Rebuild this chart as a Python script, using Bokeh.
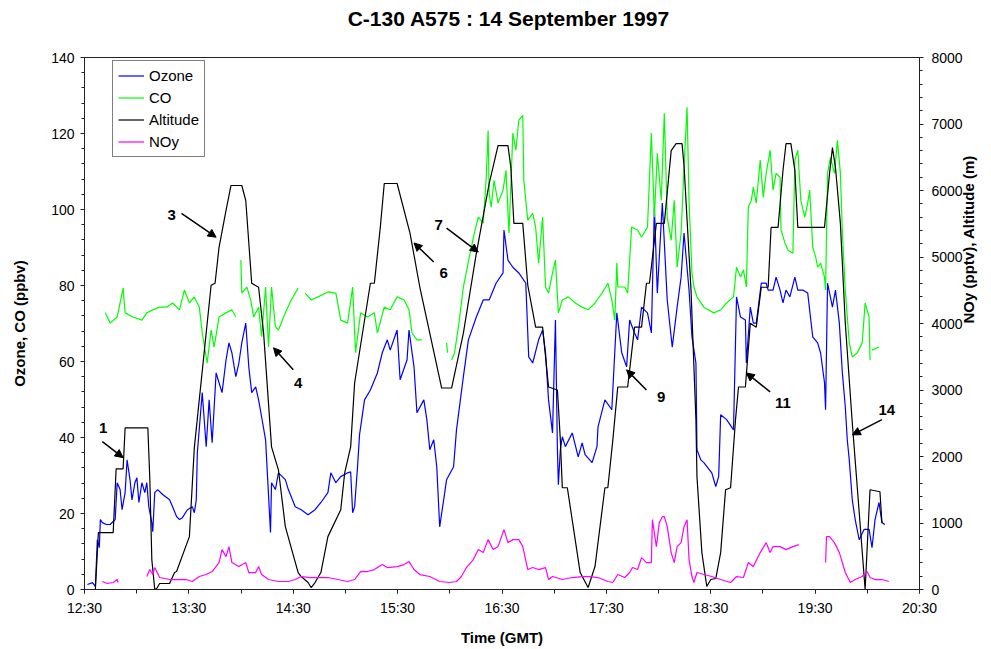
import math
from bokeh.plotting import figure
from bokeh.layouts import column
from bokeh.models import (Range1d, LinearAxis, FixedTicker, Arrow, NormalHead,
                          ColumnDataSource, Legend, LegendItem)
from bokeh.core.properties import value
from bokeh.embed import file_html
from bokeh.resources import INLINE

nan = float("nan")

# ---------------- data (time in decimal hours GMT) ----------------
alt_t = [12.519,12.604,12.633,12.775,12.803,12.870,12.889,13.107,13.126,13.145,13.173,13.192,13.220,13.315,13.363,13.382,13.505,13.552,13.713,13.751,
         13.789,13.856,13.903,14.007,14.045,14.102,14.168,14.216,14.292,14.358,14.424,14.547,14.576,14.642,14.671,14.709,14.765,14.832,14.955,14.993,
         15.050,15.088,15.239,15.277,15.334,15.372,15.495,15.619,15.713,15.808,15.922,16.017,16.130,16.254,16.377,16.462,16.557,16.585,16.614,16.699,
         16.747,16.822,16.889,16.946,17.031,17.059,17.078,17.126,17.249,17.325,17.391,17.486,17.514,17.562,17.609,17.704,17.770,17.837,17.884,17.913,
         17.979,18.055,18.121,18.168,18.225,18.244,18.311,18.358,18.368,18.415,18.462,18.500,18.548,18.595,18.642,18.690,18.737,18.766,18.832,18.879,
         18.936,18.984,19.050,19.078,19.145,19.192,19.221,19.268,19.306,19.334,19.590,19.638,19.666,19.695,19.742,19.789,19.856,19.913,19.979,20.026,
         20.121,20.140]
alt_m = [0,0,855,855,1815,1815,2430,2430,1650,450,0,15,90,90,255,270,795,2130,4575,4605,
         5145,5700,6075,6075,5850,4605,4545,3855,2145,1800,945,255,195,105,30,105,255,795,1200,1755,
         2145,3105,4605,4605,5445,6105,6105,5355,4545,3855,3030,3030,3855,5055,6105,6675,6675,6345,5505,5505,
         4575,3945,3945,3045,3000,2250,1530,1530,255,30,345,1530,1530,2250,3045,3045,3945,3945,4605,4605,
         5505,5505,6600,6705,6705,6375,4500,2550,1695,555,45,150,165,555,1500,1530,2550,3045,3045,4005,
         3945,4545,4545,5445,5445,6300,6705,6705,6300,5445,5445,6255,6645,6345,5505,4005,2505,1350,0,1500,
         1470,1005]

o3_t = [12.528,12.576,12.604,12.623,12.642,12.652,12.671,12.709,12.746,12.775,12.794,12.813,12.841,12.860,12.889,12.908,12.936,12.955,12.983,13.002,
        13.021,13.050,13.078,13.097,13.116,13.145,13.154,13.173,13.201,13.249,13.315,13.344,13.382,13.410,13.438,13.486,13.533,13.552,13.571,13.581,
        13.628,13.666,13.694,13.723,13.761,13.789,13.818,13.856,13.884,13.912,13.950,13.979,14.007,14.045,14.074,14.102,14.140,14.168,14.197,14.235,
        14.282,14.292,14.329,14.358,14.424,14.453,14.519,14.576,14.642,14.709,14.765,14.832,14.860,14.908,14.955,15.021,15.050,15.069,15.088,15.116,
        15.135,15.183,15.239,15.306,15.353,15.401,15.429,15.495,15.524,15.590,15.609,15.657,15.685,15.751,15.780,15.808,15.846,15.875,15.903,15.941,
        15.969,16.036,16.064,16.130,16.178,16.254,16.320,16.377,16.443,16.510,16.519,16.557,16.604,16.661,16.728,16.756,16.794,16.851,16.889,16.917,
        16.946,16.984,17.012,17.031,17.040,17.059,17.078,17.107,17.173,17.230,17.268,17.296,17.363,17.410,17.420,17.486,17.552,17.600,17.647,17.694,
        17.723,17.770,17.799,17.837,17.894,17.931,17.960,17.988,18.036,18.083,18.131,18.178,18.216,18.244,18.292,18.320,18.358,18.368,18.405,18.434,
        18.510,18.548,18.576,18.595,18.652,18.718,18.747,18.785,18.832,18.841,18.879,18.908,18.936,18.984,19.031,19.050,19.097,19.126,19.164,19.192,
        19.221,19.258,19.306,19.334,19.382,19.429,19.477,19.524,19.552,19.590,19.600,19.619,19.666,19.695,19.732,19.761,19.789,19.808,19.827,19.856,
        19.884,19.922,19.969,20.017,20.045,20.074,20.112,20.140,20.169]
o3_ppbv = [1.3,1.8,0.8,13.1,11.0,18.4,17.6,17.1,17.1,17.9,18.4,28.1,26.3,21.0,25.5,34.1,28.9,23.6,28.1,29.4,
           22.9,28.1,25.5,28.1,21.8,17.6,15.2,25.5,26.3,25.0,23.6,21.8,19.2,18.4,18.9,21.0,21.8,20.2,23.6,36.0,
           51.8,37.6,49.9,38.6,57.0,54.4,51.8,60.4,64.9,62.3,56.0,59.6,64.9,70.1,58.6,51.8,53.3,49.9,45.4,39.4,
           15.0,28.1,26.3,30.7,28.9,26.3,21.8,21.0,19.7,21.0,22.9,25.5,30.7,28.1,29.7,30.7,31.0,20.2,21.8,32.3,
           40.7,49.9,52.5,57.0,62.3,65.7,63.0,68.3,55.2,60.4,68.3,58.6,46.5,49.9,44.7,36.8,39.4,32.3,16.5,23.6,
           28.9,32.3,42.0,56.0,65.7,71.7,76.2,76.2,80.6,83.3,94.6,86.7,84.8,83.3,80.6,61.2,59.6,65.7,68.3,62.3,
           49.9,41.2,70.9,36.8,27.6,36.8,40.2,37.6,41.2,34.9,38.6,35.5,33.4,37.6,42.8,49.9,47.3,72.8,62.3,58.6,
           70.9,67.5,65.7,74.3,72.8,67.5,100.6,78.0,101.7,76.2,63.8,74.3,82.2,93.8,78.8,66.5,59.6,36.8,34.1,33.4,
           30.7,27.1,29.7,46.0,44.7,42.0,77.0,71.7,70.9,59.6,74.3,70.1,70.1,80.6,80.6,78.8,78.8,82.2,78.8,75.4,
           78.8,77.0,82.2,78.8,78.8,78.0,66.5,64.9,62.3,54.4,47.3,80.6,74.3,78.8,70.1,57.0,48.1,39.4,34.1,23.6,
           18.4,13.1,15.8,15.8,11.0,18.4,22.9,17.6,17.1]

co_t = [12.699,12.746,12.813,12.870,12.889,12.964,13.050,13.097,13.154,13.220,13.287,13.344,13.410,13.457,13.505,13.552,13.600,13.628,13.675,13.713,
        13.742,13.789,13.856,13.912,13.950,13.975,
        13.998,14.007,14.055,14.092,14.121,14.168,14.197,14.235,14.263,14.292,14.329,14.358,14.424,14.481,14.547,14.580,
        14.614,14.671,14.737,14.832,14.908,14.955,15.021,15.069,15.097,15.145,15.211,15.277,15.306,15.372,15.429,15.495,15.562,15.609,15.638,15.685,
        15.732,15.850,15.969,15.978,16.000,
        16.017,16.045,16.083,16.130,16.187,16.235,16.273,16.320,16.349,16.367,16.377,16.396,16.424,16.462,16.510,16.538,16.567,16.604,16.633,16.661,
        16.699,16.709,16.747,16.794,16.822,16.851,16.889,16.917,16.946,16.984,17.012,17.040,17.078,17.135,17.202,17.268,17.325,17.391,17.458,17.514,
        17.552,17.581,17.600,17.609,17.676,17.704,17.742,17.799,17.837,17.894,17.931,17.960,17.988,18.026,18.055,18.083,18.121,18.150,18.178,18.216,
        18.244,18.273,18.292,18.320,18.339,18.368,18.434,18.529,18.595,18.652,18.718,18.747,18.785,18.813,18.841,18.860,18.889,18.908,18.936,18.974,
        19.003,19.031,19.069,19.097,19.126,19.164,19.173,19.211,19.240,19.287,19.306,19.334,19.363,19.401,19.429,19.448,19.477,19.505,19.524,19.552,
        19.590,19.600,19.619,19.647,19.685,19.714,19.742,19.761,19.789,19.827,19.856,19.903,19.951,19.979,20.017,20.026,20.035,20.045,20.112]
co_ppbv = [72.8,70.1,71.7,79.3,72.8,71.7,70.9,72.8,73.6,74.3,74.3,75.4,73.6,78.8,75.4,77.0,74.3,67.5,59.6,68.3,
           63.8,71.7,72.8,73.6,71.7,nan,
           86.7,78.0,79.6,76.2,71.7,74.3,66.5,79.6,63.8,79.6,69.1,68.3,72.8,76.2,79.3,nan,
           78.0,76.2,77.0,78.3,78.0,70.9,70.1,79.6,62.3,72.8,71.7,72.8,67.5,74.3,73.6,77.0,76.2,73.6,67.5,65.7,
           65.7,nan,64.9,62.3,nan,
           60.4,62.3,69.1,79.6,87.5,93.8,98.0,96.4,108.5,120.8,104.3,100.6,107.7,101.7,105.1,110.3,93.8,120.1,115.6,123.5,
           124.8,107.7,97.2,99.0,95.4,85.9,98.0,79.6,78.0,83.3,86.7,72.8,76.2,77.0,75.4,74.3,73.6,75.4,78.0,80.6,
           76.2,70.9,85.9,79.6,79.6,78.0,95.4,94.6,92.7,95.4,120.1,98.0,114.8,102.4,125.3,98.0,91.9,102.4,84.8,93.8,
           111.1,126.9,102.4,83.3,79.6,77.0,74.3,72.8,73.6,75.4,77.0,84.8,82.2,84.1,79.6,100.6,102.4,105.9,101.7,113.0,
           103.2,109.5,115.6,105.1,109.5,108.5,94.6,91.2,89.3,88.5,113.0,115.6,102.4,98.0,101.7,105.1,90.1,87.5,84.8,85.9,
           82.2,78.8,109.5,113.7,109.5,118.2,109.5,93.8,78.8,64.9,61.2,62.3,64.9,75.4,71.7,60.4,nan,63.0,63.8]

noy_t = [12.671,12.718,12.775,12.813,12.822,12.950,
         13.097,13.126,13.154,13.173,13.220,13.315,13.410,13.476,13.533,13.600,13.666,13.723,13.789,13.818,13.856,13.884,13.912,13.979,14.045,14.074,
         14.140,14.168,14.197,14.263,14.358,14.453,14.519,14.576,14.671,14.765,14.832,14.927,15.021,15.088,15.145,15.211,15.277,15.353,15.401,15.495,
         15.562,15.609,15.657,15.713,15.808,15.903,15.998,16.064,16.111,16.159,16.225,16.273,16.320,16.367,16.415,16.462,16.519,16.557,16.604,16.661,
         16.699,16.747,16.794,16.851,16.917,16.946,16.984,17.078,17.173,17.268,17.344,17.420,17.514,17.562,17.609,17.676,17.723,17.751,17.799,17.837,
         17.884,17.931,17.941,17.979,18.007,18.036,18.055,18.083,18.121,18.150,18.178,18.216,18.244,18.273,18.292,18.320,18.339,18.368,18.434,18.510,
         18.595,18.690,18.747,18.813,18.860,18.908,18.974,19.031,19.069,19.097,19.164,19.221,19.287,19.344,19.470,
         19.600,19.609,19.638,19.685,19.732,19.761,19.789,19.837,19.884,19.951,19.998,20.026,20.074,20.140,20.206]
noy_pptv = [120,90,105,150,105,nan,
            195,300,225,330,180,150,150,150,120,195,225,270,405,600,495,645,405,345,405,255,
            255,345,225,150,120,120,150,195,180,180,180,150,120,150,270,270,300,375,330,345,
            375,420,300,225,195,120,105,120,195,330,450,600,555,750,600,645,900,705,750,750,
            645,300,330,300,330,150,195,150,180,195,195,180,120,105,225,180,255,330,300,480,
            405,405,1050,645,1005,1095,1095,945,555,405,645,705,945,1050,450,195,105,255,225,195,
            150,105,195,180,405,345,555,705,555,645,645,600,645,675,nan,
            405,795,795,705,555,405,255,105,150,195,270,180,150,150,120]

# numbered arrows (label position and arrow start/end, in hours / ppbv)
ann_labels = ["1", "3", "4", "6", "7", "9", "11", "14"]
ann_t = [12.680, 13.334, 14.547, 15.941, 15.894, 18.026, 19.192, 20.187]
ann_v = [42.6, 98.5, 54.4, 83.3, 95.9, 50.7, 49.1, 47.3]
arrow_t0 = [12.671, 13.429, 14.500, 15.846, 15.969, 17.884, 19.069, 20.140]
arrow_v0 = [38.9, 99.0, 57.8, 86.2, 95.1, 52.5, 52.0, 44.7]
arrow_t1 = [12.870, 13.761, 14.311, 15.657, 16.273, 17.694, 18.841, 19.856]
arrow_v1 = [34.7, 92.7, 63.6, 91.2, 88.8, 57.8, 57.0, 40.7]

x_ticks = [12.5, 13.5, 14.5, 15.5, 16.5, 17.5, 18.5, 19.5, 20.5]
x_tick_labels = ["12:30", "13:30", "14:30", "15:30", "16:30", "17:30", "18:30", "19:30", "20:30"]
x_minor = [12.5, 13.0, 13.5, 14.0, 14.5, 15.0, 15.5, 16.0, 16.5, 17.0, 17.5, 18.0, 18.5, 19.0, 19.5, 20.0, 20.5]
left_ticks = [0, 20, 40, 60, 80, 100, 120, 140]
left_minor = list(range(0, 141, 4))
right_ticks = [0, 1000, 2000, 3000, 4000, 5000, 6000, 7000, 8000]
right_minor = list(range(0, 8001, 200))

TITLE = "C-130 A575 : 14 September 1997"
FONT = "Liberation Sans"
W = 988
TITLE_H = 36

# ---- title strip (a bare figure holding the title text) ----
tfig = figure(width=W, height=TITLE_H, output_backend="svg", toolbar_location=None,
              x_range=Range1d(0, W), y_range=Range1d(0, TITLE_H),
              x_axis_type=None, y_axis_type=None, min_border=0)
tfig.xgrid.visible = False
tfig.ygrid.visible = False
tfig.outline_line_color = None
tfig.text(x=[502], y=[TITLE_H / 2], text=[TITLE], text_font=value(FONT),
          text_font_style="bold", text_font_size="21px", text_align="center",
          text_baseline="middle", text_color="black")

# ---- main chart ----
p = figure(width=W, height=648 - TITLE_H, output_backend="svg", toolbar_location=None,
           x_range=Range1d(12.5, 20.5), y_range=Range1d(0, 140),
           min_border_left=84, min_border_right=60, min_border_top=57 - TITLE_H,
           min_border_bottom=58)
p.extra_y_ranges = {"right": Range1d(0, 8000)}

p.xgrid.visible = False
p.ygrid.visible = False
p.outline_line_color = "#222222"
p.background_fill_color = "white"

r_o3 = p.line(o3_t, o3_ppbv, line_color="#0000FF", line_width=1.2)
r_co = p.line(co_t, co_ppbv, line_color="#00FF00", line_width=1.2)
r_alt = p.line(alt_t, alt_m, line_color="black", line_width=1.2, y_range_name="right")
r_noy = p.line(noy_t, noy_pptv, line_color="#FF00FF", line_width=1.2, y_range_name="right")

# axes
xa = p.xaxis[0]
xa.ticker = FixedTicker(ticks=x_ticks, minor_ticks=x_minor)
xa.major_label_overrides = dict(zip(x_ticks, x_tick_labels))
xa.axis_label = "Time (GMT)"
ya = p.yaxis[0]
ya.ticker = FixedTicker(ticks=left_ticks, minor_ticks=left_minor)
ya.axis_label = "Ozone, CO (ppbv)"
ra = LinearAxis(y_range_name="right", axis_label="NOy (pptv), Altitude (m)")
ra.ticker = FixedTicker(ticks=right_ticks, minor_ticks=right_minor)
ra.axis_label_orientation = math.pi / 2
p.add_layout(ra, "right")

for ax in (xa, ya, ra):
    ax.axis_line_color = "#222222"
    ax.major_tick_line_color = "#222222"
    ax.minor_tick_line_color = "#222222"
    ax.major_tick_in = 0
    ax.major_tick_out = 4
    ax.minor_tick_in = 0
    ax.minor_tick_out = 3
    ax.major_label_text_font = FONT
    ax.major_label_text_font_size = "14px"
    ax.major_label_text_color = "black"
    ax.axis_label_text_font = FONT
    ax.axis_label_text_font_size = "15px"
    ax.axis_label_text_font_style = "bold"
    ax.axis_label_text_color = "black"
    ax.major_label_standoff = 6
xa.minor_tick_out = 4
xa.axis_label_standoff = 10
ya.axis_label_standoff = 20
ra.axis_label_standoff = 3
ra.major_label_standoff = 8

# numbered annotations
lab_src = ColumnDataSource(dict(x=ann_t, y=ann_v, text=ann_labels))
p.text(x="x", y="y", text="text", source=lab_src, text_font=value(FONT),
       text_font_style="bold", text_font_size="15px", text_align="center",
       text_baseline="middle", text_color="black")
arr_src = ColumnDataSource(dict(x0=arrow_t0, y0=arrow_v0, x1=arrow_t1, y1=arrow_v1))
p.add_layout(Arrow(end=NormalHead(size=8, fill_color="black", line_color="black"),
                   x_start="x0", y_start="y0", x_end="x1", y_end="y1",
                   source=arr_src, line_color="black", line_width=1.5))

legend = Legend(items=[LegendItem(label="Ozone", renderers=[r_o3]),
                       LegendItem(label="CO", renderers=[r_co]),
                       LegendItem(label="Altitude", renderers=[r_alt]),
                       LegendItem(label="NOy", renderers=[r_noy])],
                location=(28, 432))
legend.border_line_color = "black"
legend.border_line_width = 1.2
legend.background_fill_color = "white"
legend.background_fill_alpha = 1
legend.label_text_font = FONT
legend.label_text_font_size = "15px"
legend.label_text_color = "black"
legend.glyph_width = 26
legend.glyph_height = 19
legend.label_height = 19
legend.spacing = 3
legend.padding = 5
legend.margin = 0
legend.label_standoff = 5
p.add_layout(legend)

page = column(tfig, p, spacing=0)
open("out.html", "w").write(file_html(page, INLINE))
